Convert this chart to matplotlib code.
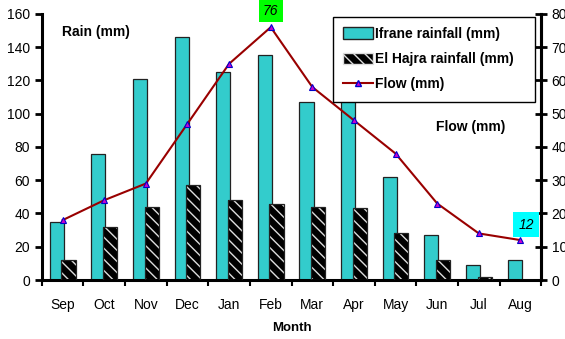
import numpy as np
import matplotlib.pyplot as plt
from matplotlib.patches import Patch
from matplotlib.lines import Line2D

plt.rcParams['font.family'] = ['Liberation Sans', 'DejaVu Sans']

months = ['Sep', 'Oct', 'Nov', 'Dec', 'Jan', 'Feb', 'Mar', 'Apr', 'May', 'Jun', 'Jul', 'Aug']
ifrane = [35, 76, 121, 146, 125, 135, 107, 108, 62, 27, 9, 12]
el_hajra = [12, 32, 44, 57, 48, 46, 44, 43, 28, 12, 2, 0]
flow = [18, 24, 29, 47, 65, 76, 58, 48, 38, 23, 14, 12]

x = np.arange(len(months))
w = 0.34

fig = plt.figure(figsize=(5.65, 3.39), dpi=100)
ax = fig.add_axes([0.074, 0.174, 0.884, 0.785])

ax.bar(x - 0.14, ifrane, w, color='#33CCCC', edgecolor='#222222', linewidth=0.9, zorder=2)
# hatched bars: black face with light stripes, then a dark outline
ax.bar(x + 0.14, el_hajra, w, color='black', edgecolor='#dddddd', hatch='\\\\\\', linewidth=0, zorder=2)
ax.bar(x + 0.14, el_hajra, w, color='none', edgecolor='#222222', linewidth=0.9, zorder=3)

ax.set_xlim(-0.5, 11.5)
ax.set_ylim(0, 160)
ax.set_yticks(range(0, 161, 20))
ax.set_xticks(x)
ax.set_xticklabels(months, fontsize=10)
ax.set_xticks(np.arange(-0.5, 12, 1), minor=True)
ax.tick_params(axis='x', which='major', length=0, pad=13)
ax.tick_params(axis='x', which='minor', length=4, width=1.5, direction='out')
ax.tick_params(axis='y', labelsize=10, length=5, width=2, direction='out')
ax.spines['top'].set_visible(False)
for s in ['left', 'bottom', 'right']:
    ax.spines[s].set_linewidth(2.2)
ax.set_xlabel('Month', fontsize=9.5, fontweight='bold', labelpad=7)
ax.text(0.04, 0.958, 'Rain (mm)', transform=ax.transAxes, fontsize=10, fontweight='bold', va='top')

ax2 = ax.twinx()
ax2.plot(x, flow, color='#990000', linewidth=1.5, marker='^', markersize=4,
         markerfacecolor='#cc00cc', markeredgecolor='#0000cc', markeredgewidth=0.8, zorder=4)
ax2.set_ylim(0, 80)
ax2.set_yticks(range(0, 81, 10))
ax2.tick_params(axis='y', labelsize=10, length=8, width=2, direction='inout')
ax2.spines['top'].set_visible(False)
ax2.spines['right'].set_linewidth(2.2)
ax2.text(0.79, 0.6, 'Flow (mm)', transform=ax2.transAxes, fontsize=10, fontweight='bold', va='top')

ax2.annotate(str(flow[5]), (x[5], flow[5]), xytext=(0, 12), textcoords='offset points',
             ha='center', va='center', fontsize=10, fontstyle='italic',
             bbox=dict(boxstyle='square,pad=0.3', fc='#00ff00', ec='none'))
ax2.annotate(str(flow[11]), (x[11], flow[11]), xytext=(4, 11), textcoords='offset points',
             ha='center', va='center', fontsize=10, fontstyle='italic',
             bbox=dict(boxstyle='square,pad=0.4', fc='#00ffff', ec='none'))

handles = [Patch(facecolor='#33CCCC', edgecolor='#222222'),
           Patch(facecolor='black', edgecolor='#dddddd', hatch='\\\\\\'),
           Line2D([0], [0], color='#990000', linewidth=1.5, marker='^', markersize=4,
                  markerfacecolor='#cc00cc', markeredgecolor='#0000cc')]
labels = ['Ifrane rainfall (mm)', 'El Hajra rainfall (mm)', 'Flow (mm)']
leg = ax2.legend(handles, labels, loc='upper left', bbox_to_anchor=(0.583, 0.665, 0.405, 0.325),
                 mode='expand', prop={'weight': 'bold', 'size': 10}, frameon=True, fancybox=False,
                 edgecolor='black', framealpha=1, handlelength=2.1, handleheight=0.9,
                 handletextpad=0.15, labelspacing=0.8, borderpad=0.75, borderaxespad=0)
leg.get_frame().set_linewidth(1.0)
leg.set_zorder(10)

fig.savefig('out.png', dpi=100)
